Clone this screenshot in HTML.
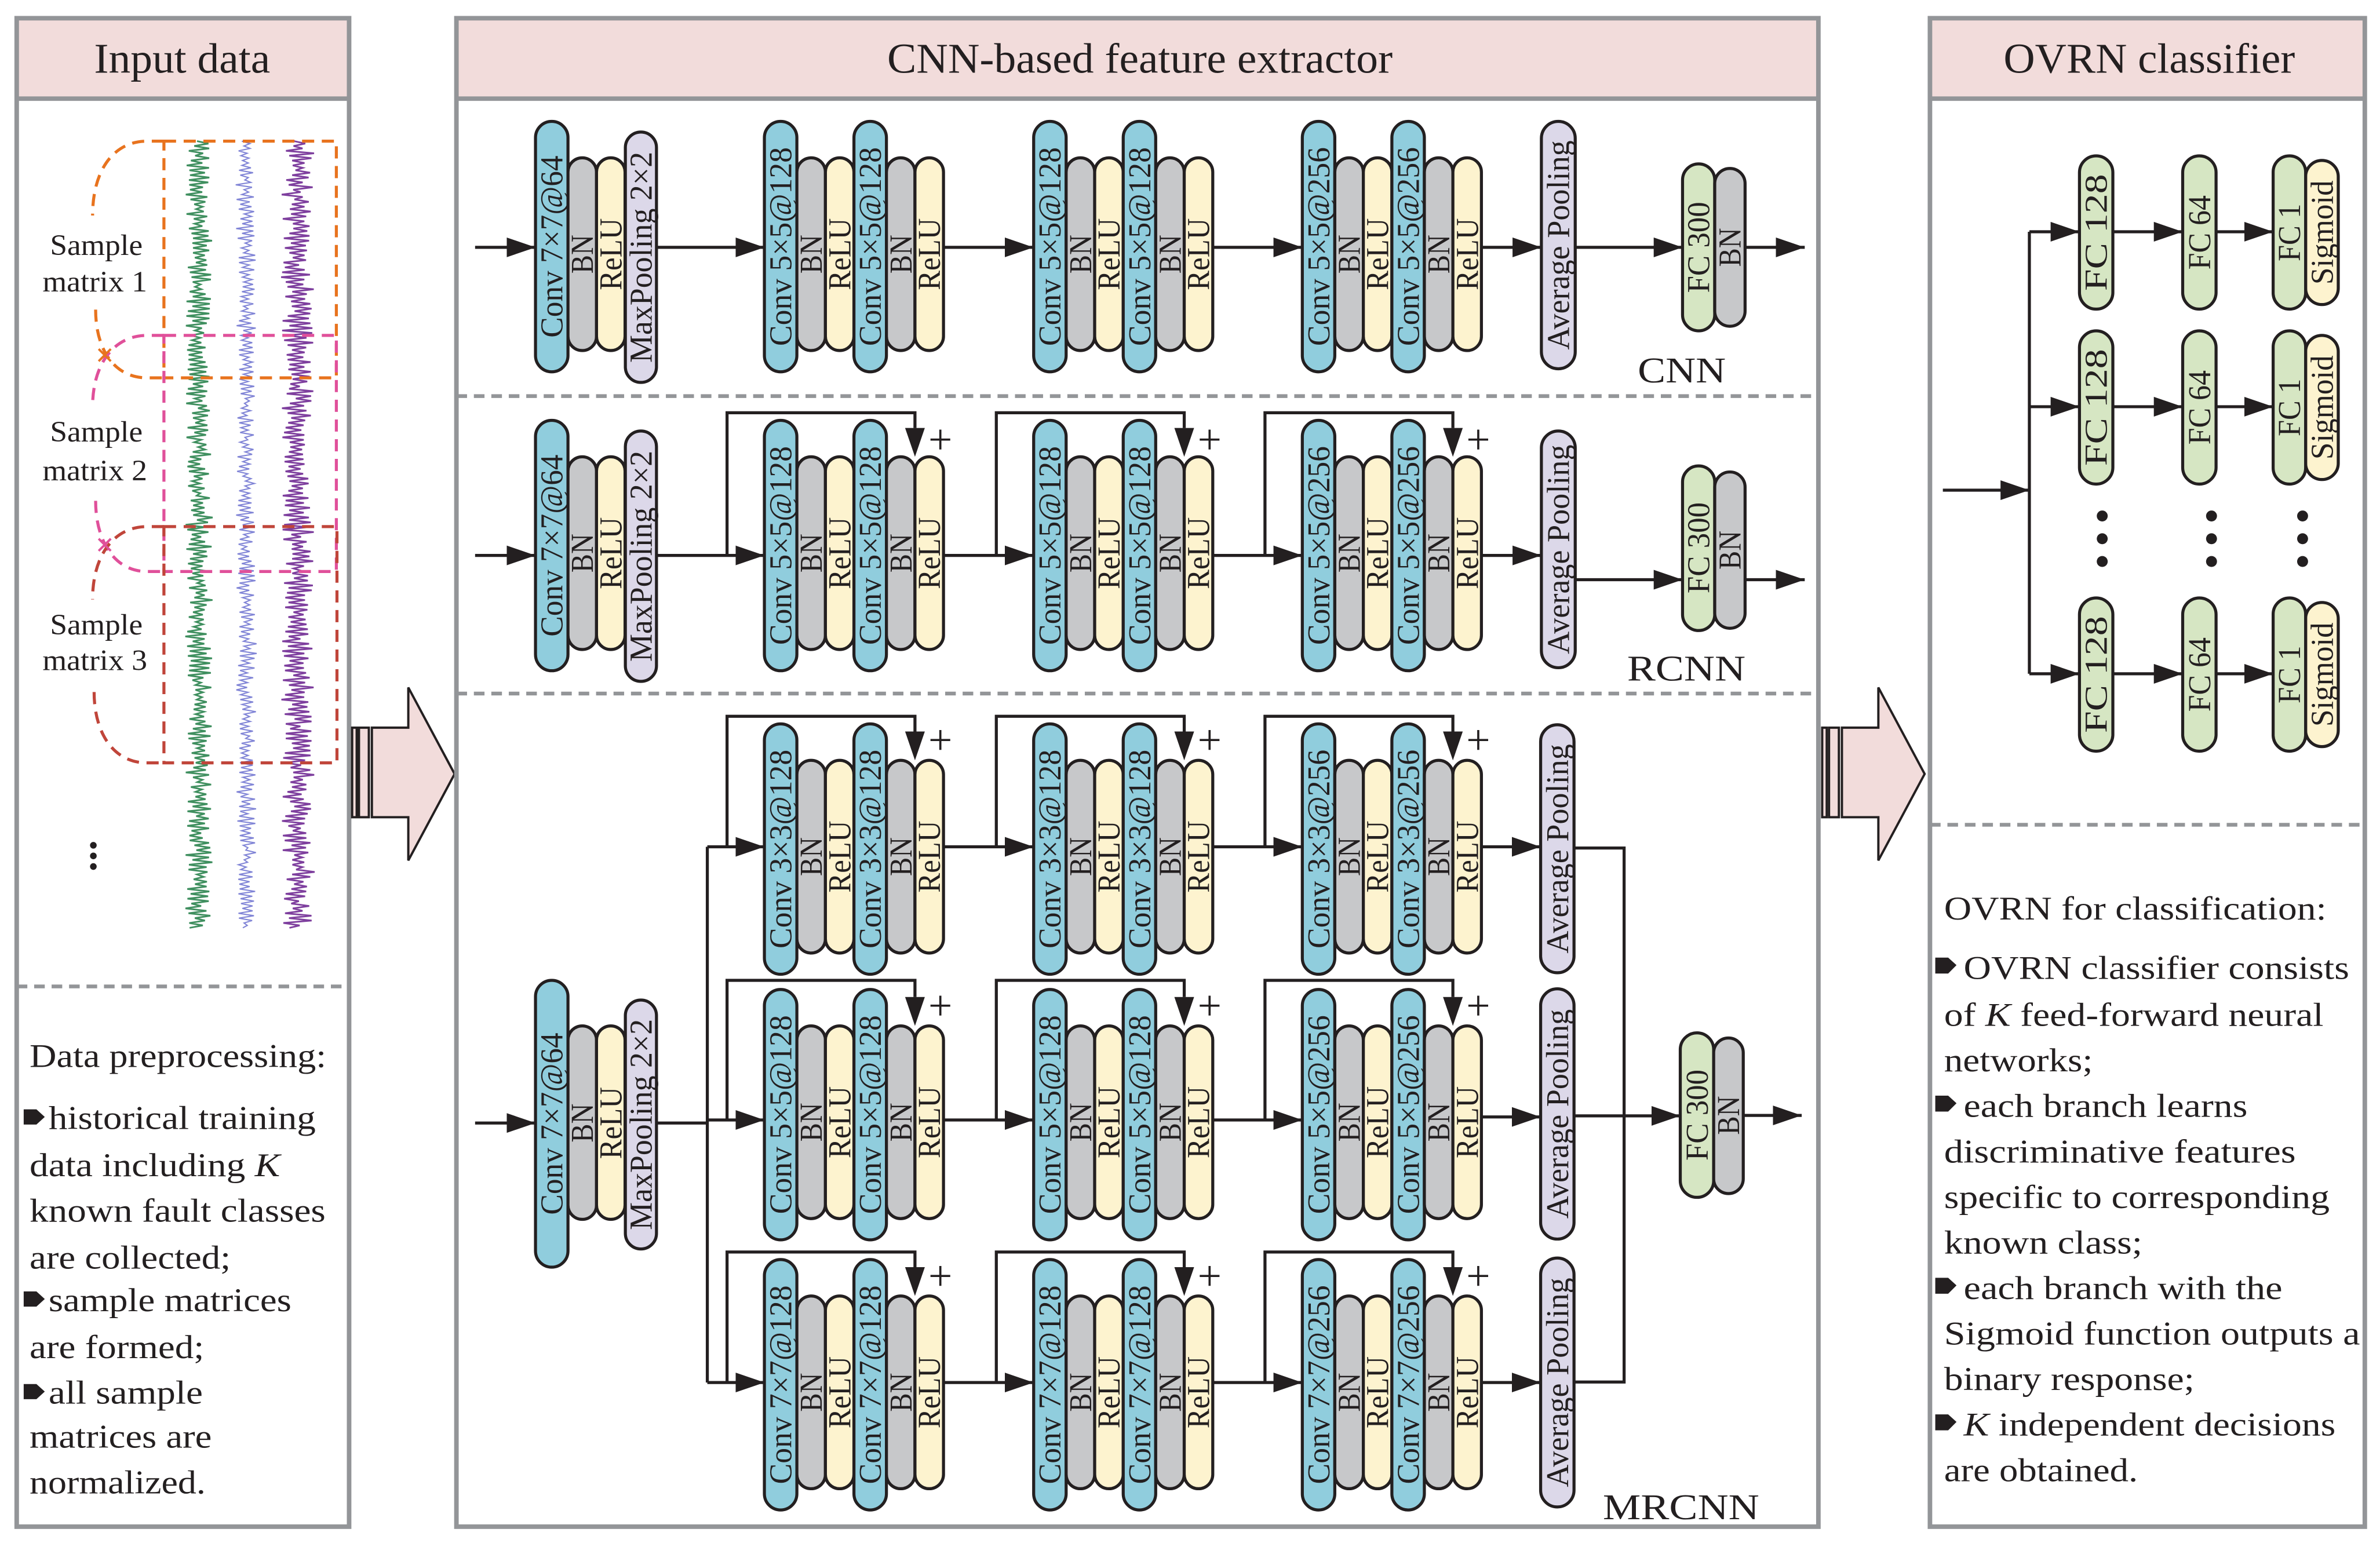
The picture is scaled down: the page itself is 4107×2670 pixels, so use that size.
<!DOCTYPE html>
<html><head><meta charset="utf-8">
<style>
html,body{margin:0;padding:0;background:#fff}
svg{display:block}
text{font-family:"Liberation Serif",serif;fill:#231f20}
.t{font-size:21px;text-anchor:middle;dominant-baseline:central}
.p{stroke:#231f20;stroke-width:2}
.b{fill:#90cddd}.g{fill:#c7c8ca}.y{fill:#fdf3cf}.l{fill:#dcd8e9}.f{fill:#d6e6c3}
.ln{fill:none;stroke:#231f20;stroke-width:2}
.ar{fill:none;stroke:#231f20;stroke-width:2;marker-end:url(#ah)}
.bd{fill:none;stroke:#939598;stroke-width:3}
.ds{fill:none;stroke:#939598;stroke-width:2.5;stroke-dasharray:7 4.5}
.bt{font-size:22px}
.pl{font-size:28px}
</style></head><body>
<svg width="4107" height="2670" viewBox="0 0 1568 1019.4" preserveAspectRatio="none" xmlns="http://www.w3.org/2000/svg" xmlns:xlink="http://www.w3.org/1999/xlink">
<defs>
<marker id="ah" markerUnits="userSpaceOnUse" markerWidth="19" markerHeight="13" refX="19" refY="6.5" orient="auto"><path d="M0,0 L19,6.5 L0,13 z" fill="#231f20"/></marker>
<g id="grp">
<rect class="p b" x="0" y="0" width="21.4" height="165" rx="10.7"/>
<rect class="p g" x="21.4" y="24" width="18.8" height="127" rx="9.4"/>
<rect class="p y" x="40.2" y="24" width="18.8" height="127" rx="9.4"/>
<rect class="p b" x="59" y="0" width="21.4" height="165" rx="10.7"/>
<rect class="p g" x="80.4" y="24" width="18.8" height="127" rx="9.4"/>
<rect class="p y" x="99.2" y="24" width="18.8" height="127" rx="9.4"/>
</g>
<g id="front">
<rect class="p b" x="0" y="0" width="21.4" height="165" rx="10.7"/>
<rect class="p g" x="21.4" y="24" width="18.8" height="127" rx="9.4"/>
<rect class="p y" x="40.2" y="24" width="18.8" height="127" rx="9.4"/>
<rect class="p l" x="59.2" y="7" width="20.5" height="165" rx="10.25"/>
</g>
<g id="fcrow">
<rect class="p f" x="1370" y="-50" width="22" height="101" rx="11"/>
<rect class="p f" x="1438" y="-50" width="22" height="101" rx="11"/>
<rect class="p y" x="1519" y="-47" width="21.5" height="95" rx="10.75"/>
<rect class="p f" x="1497.6" y="-50" width="21.4" height="101" rx="10.7"/>
<path class="ar" d="M1337,0 H1370"/><path class="ar" d="M1392,0 H1438"/><path class="ar" d="M1460,0 H1497.6"/>
</g>
</defs>

<!-- ===== Panel 1 ===== -->
<rect x="11" y="12" width="219" height="53" fill="#f2dcdb"/>
<rect class="bd" x="11" y="12" width="219" height="994"/>
<path class="bd" d="M11,65 H230"/>
<text x="120" y="48" font-size="28" text-anchor="middle" textLength="116" lengthAdjust="spacingAndGlyphs">Input data</text>
<g id="sig"></g>
<g fill="none" stroke-width="2" stroke-dasharray="8 5">
<rect x="108" y="93" width="113.6" height="156" stroke="#e8731e"/>
<rect x="108" y="221" width="113.6" height="155.6" stroke="#e0509a"/>
<rect x="108" y="347" width="114" height="155.7" stroke="#c0453a"/>
<path d="M108,93 L97,93 C75,93 61,112 61,142" stroke="#e8731e"/>
<path d="M63,204 C63,230 75,249 97,249 L108,249" stroke="#e8731e"/>
<path d="M108,221 L97,221 C75,221 61,240 61,268" stroke="#e0509a"/>
<path d="M63,330 C63,356 75,376.6 97,376.6 L108,376.6" stroke="#e0509a"/>
<path d="M108,347 L97,347 C75,347 61,366 61,395" stroke="#c0453a"/>
<path d="M62,456 C62,482 74,502.7 97,502.7 L108,502.7" stroke="#c0453a"/>
</g>
<path d="M65,230 L73,238 M73,230 L65,238" stroke="#e8731e" stroke-width="1.5"/>
<path d="M65,355 L73,363 M73,355 L65,363" stroke="#e0509a" stroke-width="1.5"/>
<g font-size="19.5" text-anchor="middle">
<text x="63.5" y="168" textLength="61" lengthAdjust="spacingAndGlyphs">Sample</text>
<text x="62.5" y="192" textLength="69" lengthAdjust="spacingAndGlyphs">matrix 1</text>
<text x="63.5" y="291" textLength="61" lengthAdjust="spacingAndGlyphs">Sample</text>
<text x="62.5" y="316.5" textLength="69" lengthAdjust="spacingAndGlyphs">matrix 2</text>
<text x="63.5" y="418" textLength="61" lengthAdjust="spacingAndGlyphs">Sample</text>
<text x="62.5" y="441.5" textLength="69" lengthAdjust="spacingAndGlyphs">matrix 3</text>
</g>
<g fill="#231f20"><circle cx="61.5" cy="557" r="2.2"/><circle cx="61.5" cy="564" r="2.2"/><circle cx="61.5" cy="571" r="2.2"/></g>
<path class="ds" d="M11,650 H230"/>
<g class="bt">
<text x="19.5" y="703" textLength="195.5" lengthAdjust="spacingAndGlyphs">Data preprocessing:</text>
<text x="32" y="744" textLength="176" lengthAdjust="spacingAndGlyphs">historical training</text>
<text x="19.5" y="775" textLength="165" lengthAdjust="spacingAndGlyphs">data including <tspan font-style="italic">K</tspan></text>
<text x="19.5" y="805" textLength="195" lengthAdjust="spacingAndGlyphs">known fault classes</text>
<text x="19.5" y="836" textLength="132.5" lengthAdjust="spacingAndGlyphs">are collected;</text>
<text x="32" y="864" textLength="160" lengthAdjust="spacingAndGlyphs">sample matrices</text>
<text x="19.5" y="895" textLength="115" lengthAdjust="spacingAndGlyphs">are formed;</text>
<text x="32" y="925" textLength="101.6" lengthAdjust="spacingAndGlyphs">all sample</text>
<text x="19.5" y="954" textLength="120" lengthAdjust="spacingAndGlyphs">matrices are</text>
<text x="19.5" y="984" textLength="116" lengthAdjust="spacingAndGlyphs">normalized.</text>
</g>
<g fill="#231f20">
<polygon points="15.6,731 24,731 29.5,736 24,741 15.6,741"/>
<polygon points="15.6,851 24,851 29.5,856 24,861 15.6,861"/>
<polygon points="15.6,912 24,912 29.5,917 24,922 15.6,922"/>
</g>

<!-- big arrows -->
<g stroke="#231f20" stroke-width="1.5" fill="#f2dcdb">
<rect x="232" y="479.5" width="3" height="59"/>
<rect x="236.5" y="479.5" width="6.5" height="59"/>
<polygon points="245,479.5 269,479.5 269,453 299.5,510 269,567 269,538.5 245,538.5"/>
</g>
<g transform="translate(968.5,0)" stroke="#231f20" stroke-width="1.5" fill="#f2dcdb">
<rect x="232" y="479.5" width="3" height="59"/>
<rect x="236.5" y="479.5" width="6.5" height="59"/>
<polygon points="245,479.5 269,479.5 269,453 299.5,510 269,567 269,538.5 245,538.5"/>
</g>

<!-- ===== Panel 2 ===== -->
<rect x="300.7" y="12" width="897.3" height="53" fill="#f2dcdb"/>
<rect class="bd" x="300.7" y="12" width="897.3" height="994"/>
<path class="bd" d="M300.7,65 H1198"/>
<text x="751" y="48" font-size="28" text-anchor="middle" textLength="333" lengthAdjust="spacingAndGlyphs">CNN-based feature extractor</text>
<path class="ds" d="M300.7,261 H1198 M300.7,457 H1198"/>

<!-- CNN row -->
<path class="ar" d="M313,163 H352.8"/>
<path class="ar" d="M432.5,163 H503.6"/>
<path class="ar" d="M621.6,163 H681"/>
<path class="ar" d="M799,163 H858"/>
<path class="ar" d="M976,163 H1015.5"/>
<path class="ar" d="M1037.8,163 H1108.5"/>
<path class="ar" d="M1150,163 H1189"/>
<g transform="translate(352.8,80)"><use href="#front"/>
<text class="t" transform="translate(10.7,82.5) rotate(-90)" textLength="120" lengthAdjust="spacingAndGlyphs">Conv 7×7@64</text>
<text class="t" transform="translate(30.8,87.5) rotate(-90)" textLength="25.6" lengthAdjust="spacingAndGlyphs">BN</text>
<text class="t" transform="translate(49.6,87.5) rotate(-90)" textLength="47.5" lengthAdjust="spacingAndGlyphs">ReLU</text>
<text class="t" transform="translate(69.45,89.5) rotate(-90)" textLength="139" lengthAdjust="spacingAndGlyphs">MaxPooling 2×2</text>
</g>
<g transform="translate(503.6,80)"><use href="#grp"/>
<text class="t" transform="translate(10.7,82.5) rotate(-90)" textLength="131" lengthAdjust="spacingAndGlyphs">Conv 5×5@128</text>
<text class="t" transform="translate(30.8,87.5) rotate(-90)" textLength="25.6" lengthAdjust="spacingAndGlyphs">BN</text>
<text class="t" transform="translate(49.6,87.5) rotate(-90)" textLength="47.5" lengthAdjust="spacingAndGlyphs">ReLU</text>
<text class="t" transform="translate(69.7,82.5) rotate(-90)" textLength="131" lengthAdjust="spacingAndGlyphs">Conv 5×5@128</text>
<text class="t" transform="translate(89.8,87.5) rotate(-90)" textLength="25.6" lengthAdjust="spacingAndGlyphs">BN</text>
<text class="t" transform="translate(108.6,87.5) rotate(-90)" textLength="47.5" lengthAdjust="spacingAndGlyphs">ReLU</text>
</g>
<g transform="translate(681,80)"><use href="#grp"/>
<text class="t" transform="translate(10.7,82.5) rotate(-90)" textLength="131" lengthAdjust="spacingAndGlyphs">Conv 5×5@128</text>
<text class="t" transform="translate(30.8,87.5) rotate(-90)" textLength="25.6" lengthAdjust="spacingAndGlyphs">BN</text>
<text class="t" transform="translate(49.6,87.5) rotate(-90)" textLength="47.5" lengthAdjust="spacingAndGlyphs">ReLU</text>
<text class="t" transform="translate(69.7,82.5) rotate(-90)" textLength="131" lengthAdjust="spacingAndGlyphs">Conv 5×5@128</text>
<text class="t" transform="translate(89.8,87.5) rotate(-90)" textLength="25.6" lengthAdjust="spacingAndGlyphs">BN</text>
<text class="t" transform="translate(108.6,87.5) rotate(-90)" textLength="47.5" lengthAdjust="spacingAndGlyphs">ReLU</text>
</g>
<g transform="translate(858,80)"><use href="#grp"/>
<text class="t" transform="translate(10.7,82.5) rotate(-90)" textLength="131" lengthAdjust="spacingAndGlyphs">Conv 5×5@256</text>
<text class="t" transform="translate(30.8,87.5) rotate(-90)" textLength="25.6" lengthAdjust="spacingAndGlyphs">BN</text>
<text class="t" transform="translate(49.6,87.5) rotate(-90)" textLength="47.5" lengthAdjust="spacingAndGlyphs">ReLU</text>
<text class="t" transform="translate(69.7,82.5) rotate(-90)" textLength="131" lengthAdjust="spacingAndGlyphs">Conv 5×5@256</text>
<text class="t" transform="translate(89.8,87.5) rotate(-90)" textLength="25.6" lengthAdjust="spacingAndGlyphs">BN</text>
<text class="t" transform="translate(108.6,87.5) rotate(-90)" textLength="47.5" lengthAdjust="spacingAndGlyphs">ReLU</text>
</g>
<rect class="p l" x="1015.5" y="80" width="22.3" height="163" rx="11.15"/>
<text class="t" transform="translate(1026.65,161.5) rotate(-90)" textLength="138" lengthAdjust="spacingAndGlyphs">Average Pooling</text>
<rect class="p f" x="1108.5" y="108" width="21.2" height="110" rx="10.6"/>
<rect class="p g" x="1129.7" y="111" width="20" height="104" rx="10"/>
<text class="t" transform="translate(1119.1,163) rotate(-90)" textLength="60" lengthAdjust="spacingAndGlyphs">FC 300</text>
<text class="t" transform="translate(1139.7,163) rotate(-90)" textLength="25.6" lengthAdjust="spacingAndGlyphs">BN</text>
<text x="1108" y="252" font-size="24" text-anchor="middle" textLength="58" lengthAdjust="spacingAndGlyphs">CNN</text>

<!-- RCNN row -->
<path class="ar" d="M313,366 H352.8"/>
<path class="ar" d="M432.5,366 H503.6"/>
<path class="ar" d="M621.6,366 H681"/>
<path class="ar" d="M799,366 H858"/>
<path class="ar" d="M976,366 H1015.5"/>
<path class="ar" d="M1037.8,382 H1108.5"/>
<path class="ar" d="M1150,382 H1189"/>
<g transform="translate(352.8,277)"><use href="#front"/>
<text class="t" transform="translate(10.7,82.5) rotate(-90)" textLength="120" lengthAdjust="spacingAndGlyphs">Conv 7×7@64</text>
<text class="t" transform="translate(30.8,87.5) rotate(-90)" textLength="25.6" lengthAdjust="spacingAndGlyphs">BN</text>
<text class="t" transform="translate(49.6,87.5) rotate(-90)" textLength="47.5" lengthAdjust="spacingAndGlyphs">ReLU</text>
<text class="t" transform="translate(69.45,89.5) rotate(-90)" textLength="139" lengthAdjust="spacingAndGlyphs">MaxPooling 2×2</text>
</g>
<g transform="translate(503.6,277)"><use href="#grp"/>
<path class="ln" d="M-24.6,89 V-5 H99.2 V5"/><polygon points="92.7,5 105.7,5 99.2,24" fill="#231f20"/><text class="pl" x="108" y="22">+</text>
<text class="t" transform="translate(10.7,82.5) rotate(-90)" textLength="131" lengthAdjust="spacingAndGlyphs">Conv 5×5@128</text>
<text class="t" transform="translate(30.8,87.5) rotate(-90)" textLength="25.6" lengthAdjust="spacingAndGlyphs">BN</text>
<text class="t" transform="translate(49.6,87.5) rotate(-90)" textLength="47.5" lengthAdjust="spacingAndGlyphs">ReLU</text>
<text class="t" transform="translate(69.7,82.5) rotate(-90)" textLength="131" lengthAdjust="spacingAndGlyphs">Conv 5×5@128</text>
<text class="t" transform="translate(89.8,87.5) rotate(-90)" textLength="25.6" lengthAdjust="spacingAndGlyphs">BN</text>
<text class="t" transform="translate(108.6,87.5) rotate(-90)" textLength="47.5" lengthAdjust="spacingAndGlyphs">ReLU</text>
</g>
<g transform="translate(681,277)"><use href="#grp"/>
<path class="ln" d="M-24.6,89 V-5 H99.2 V5"/><polygon points="92.7,5 105.7,5 99.2,24" fill="#231f20"/><text class="pl" x="108" y="22">+</text>
<text class="t" transform="translate(10.7,82.5) rotate(-90)" textLength="131" lengthAdjust="spacingAndGlyphs">Conv 5×5@128</text>
<text class="t" transform="translate(30.8,87.5) rotate(-90)" textLength="25.6" lengthAdjust="spacingAndGlyphs">BN</text>
<text class="t" transform="translate(49.6,87.5) rotate(-90)" textLength="47.5" lengthAdjust="spacingAndGlyphs">ReLU</text>
<text class="t" transform="translate(69.7,82.5) rotate(-90)" textLength="131" lengthAdjust="spacingAndGlyphs">Conv 5×5@128</text>
<text class="t" transform="translate(89.8,87.5) rotate(-90)" textLength="25.6" lengthAdjust="spacingAndGlyphs">BN</text>
<text class="t" transform="translate(108.6,87.5) rotate(-90)" textLength="47.5" lengthAdjust="spacingAndGlyphs">ReLU</text>
</g>
<g transform="translate(858,277)"><use href="#grp"/>
<path class="ln" d="M-24.6,89 V-5 H99.2 V5"/><polygon points="92.7,5 105.7,5 99.2,24" fill="#231f20"/><text class="pl" x="108" y="22">+</text>
<text class="t" transform="translate(10.7,82.5) rotate(-90)" textLength="131" lengthAdjust="spacingAndGlyphs">Conv 5×5@256</text>
<text class="t" transform="translate(30.8,87.5) rotate(-90)" textLength="25.6" lengthAdjust="spacingAndGlyphs">BN</text>
<text class="t" transform="translate(49.6,87.5) rotate(-90)" textLength="47.5" lengthAdjust="spacingAndGlyphs">ReLU</text>
<text class="t" transform="translate(69.7,82.5) rotate(-90)" textLength="131" lengthAdjust="spacingAndGlyphs">Conv 5×5@256</text>
<text class="t" transform="translate(89.8,87.5) rotate(-90)" textLength="25.6" lengthAdjust="spacingAndGlyphs">BN</text>
<text class="t" transform="translate(108.6,87.5) rotate(-90)" textLength="47.5" lengthAdjust="spacingAndGlyphs">ReLU</text>
</g>
<rect class="p l" x="1015.5" y="284" width="22.3" height="156" rx="11.15"/>
<text class="t" transform="translate(1026.65,362) rotate(-90)" textLength="138" lengthAdjust="spacingAndGlyphs">Average Pooling</text>
<rect class="p f" x="1108.5" y="307" width="21.2" height="108.5" rx="10.6"/>
<rect class="p g" x="1129.7" y="311" width="20" height="103" rx="10"/>
<text class="t" transform="translate(1119.1,361) rotate(-90)" textLength="60" lengthAdjust="spacingAndGlyphs">FC 300</text>
<text class="t" transform="translate(1139.7,362.5) rotate(-90)" textLength="25.6" lengthAdjust="spacingAndGlyphs">BN</text>
<text x="1111" y="448.5" font-size="24" text-anchor="middle" textLength="78" lengthAdjust="spacingAndGlyphs">RCNN</text>

<!-- MRCNN -->
<path class="ar" d="M313,740 H352.8"/>
<path class="ln" d="M432.5,740 H466 M466,558 V911"/>
<rect class="p b" x="352.8" y="646" width="21.4" height="189" rx="10.7"/>
<rect class="p g" x="374.2" y="676" width="18.8" height="127.5" rx="9.4"/>
<rect class="p y" x="393" y="676" width="18.8" height="127.5" rx="9.4"/>
<rect class="p l" x="412" y="659" width="20.5" height="164" rx="10.25"/>
<text class="t" transform="translate(363.5,740.5) rotate(-90)" textLength="120" lengthAdjust="spacingAndGlyphs">Conv 7×7@64</text>
<text class="t" transform="translate(383.6,740) rotate(-90)" textLength="25.6" lengthAdjust="spacingAndGlyphs">BN</text>
<text class="t" transform="translate(402.4,740) rotate(-90)" textLength="47.5" lengthAdjust="spacingAndGlyphs">ReLU</text>
<text class="t" transform="translate(422.25,741) rotate(-90)" textLength="139" lengthAdjust="spacingAndGlyphs">MaxPooling 2×2</text>

<!-- MR row a -->
<path class="ar" d="M466,558 H503.6"/><path class="ar" d="M621.6,558 H681"/><path class="ar" d="M799,558 H858"/><path class="ar" d="M976,558 H1015"/>
<g transform="translate(503.6,477)"><use href="#grp"/>
<path class="ln" d="M-24.6,81 V-5 H99.2 V5"/><polygon points="92.7,5 105.7,5 99.2,24" fill="#231f20"/><text class="pl" x="108" y="20">+</text>
<text class="t" transform="translate(10.7,82.5) rotate(-90)" textLength="131" lengthAdjust="spacingAndGlyphs">Conv 3×3@128</text>
<text class="t" transform="translate(30.8,87.5) rotate(-90)" textLength="25.6" lengthAdjust="spacingAndGlyphs">BN</text>
<text class="t" transform="translate(49.6,87.5) rotate(-90)" textLength="47.5" lengthAdjust="spacingAndGlyphs">ReLU</text>
<text class="t" transform="translate(69.7,82.5) rotate(-90)" textLength="131" lengthAdjust="spacingAndGlyphs">Conv 3×3@128</text>
<text class="t" transform="translate(89.8,87.5) rotate(-90)" textLength="25.6" lengthAdjust="spacingAndGlyphs">BN</text>
<text class="t" transform="translate(108.6,87.5) rotate(-90)" textLength="47.5" lengthAdjust="spacingAndGlyphs">ReLU</text>
</g>
<g transform="translate(681,477)"><use href="#grp"/>
<path class="ln" d="M-24.6,81 V-5 H99.2 V5"/><polygon points="92.7,5 105.7,5 99.2,24" fill="#231f20"/><text class="pl" x="108" y="20">+</text>
<text class="t" transform="translate(10.7,82.5) rotate(-90)" textLength="131" lengthAdjust="spacingAndGlyphs">Conv 3×3@128</text>
<text class="t" transform="translate(30.8,87.5) rotate(-90)" textLength="25.6" lengthAdjust="spacingAndGlyphs">BN</text>
<text class="t" transform="translate(49.6,87.5) rotate(-90)" textLength="47.5" lengthAdjust="spacingAndGlyphs">ReLU</text>
<text class="t" transform="translate(69.7,82.5) rotate(-90)" textLength="131" lengthAdjust="spacingAndGlyphs">Conv 3×3@128</text>
<text class="t" transform="translate(89.8,87.5) rotate(-90)" textLength="25.6" lengthAdjust="spacingAndGlyphs">BN</text>
<text class="t" transform="translate(108.6,87.5) rotate(-90)" textLength="47.5" lengthAdjust="spacingAndGlyphs">ReLU</text>
</g>
<g transform="translate(858,477)"><use href="#grp"/>
<path class="ln" d="M-24.6,81 V-5 H99.2 V5"/><polygon points="92.7,5 105.7,5 99.2,24" fill="#231f20"/><text class="pl" x="108" y="20">+</text>
<text class="t" transform="translate(10.7,82.5) rotate(-90)" textLength="131" lengthAdjust="spacingAndGlyphs">Conv 3×3@256</text>
<text class="t" transform="translate(30.8,87.5) rotate(-90)" textLength="25.6" lengthAdjust="spacingAndGlyphs">BN</text>
<text class="t" transform="translate(49.6,87.5) rotate(-90)" textLength="47.5" lengthAdjust="spacingAndGlyphs">ReLU</text>
<text class="t" transform="translate(69.7,82.5) rotate(-90)" textLength="131" lengthAdjust="spacingAndGlyphs">Conv 3×3@256</text>
<text class="t" transform="translate(89.8,87.5) rotate(-90)" textLength="25.6" lengthAdjust="spacingAndGlyphs">BN</text>
<text class="t" transform="translate(108.6,87.5) rotate(-90)" textLength="47.5" lengthAdjust="spacingAndGlyphs">ReLU</text>
</g>

<!-- MR row b -->
<path class="ar" d="M466,738 H503.6"/><path class="ar" d="M621.6,738 H681"/><path class="ar" d="M799,738 H858"/><path class="ar" d="M976,736 H1015"/>
<g transform="translate(503.6,652)"><use href="#grp"/>
<path class="ln" d="M-24.6,86 V-6 H99.2 V5"/><polygon points="92.7,5 105.7,5 99.2,24" fill="#231f20"/><text class="pl" x="108" y="20">+</text>
<text class="t" transform="translate(10.7,82.5) rotate(-90)" textLength="131" lengthAdjust="spacingAndGlyphs">Conv 5×5@128</text>
<text class="t" transform="translate(30.8,87.5) rotate(-90)" textLength="25.6" lengthAdjust="spacingAndGlyphs">BN</text>
<text class="t" transform="translate(49.6,87.5) rotate(-90)" textLength="47.5" lengthAdjust="spacingAndGlyphs">ReLU</text>
<text class="t" transform="translate(69.7,82.5) rotate(-90)" textLength="131" lengthAdjust="spacingAndGlyphs">Conv 5×5@128</text>
<text class="t" transform="translate(89.8,87.5) rotate(-90)" textLength="25.6" lengthAdjust="spacingAndGlyphs">BN</text>
<text class="t" transform="translate(108.6,87.5) rotate(-90)" textLength="47.5" lengthAdjust="spacingAndGlyphs">ReLU</text>
</g>
<g transform="translate(681,652)"><use href="#grp"/>
<path class="ln" d="M-24.6,86 V-6 H99.2 V5"/><polygon points="92.7,5 105.7,5 99.2,24" fill="#231f20"/><text class="pl" x="108" y="20">+</text>
<text class="t" transform="translate(10.7,82.5) rotate(-90)" textLength="131" lengthAdjust="spacingAndGlyphs">Conv 5×5@128</text>
<text class="t" transform="translate(30.8,87.5) rotate(-90)" textLength="25.6" lengthAdjust="spacingAndGlyphs">BN</text>
<text class="t" transform="translate(49.6,87.5) rotate(-90)" textLength="47.5" lengthAdjust="spacingAndGlyphs">ReLU</text>
<text class="t" transform="translate(69.7,82.5) rotate(-90)" textLength="131" lengthAdjust="spacingAndGlyphs">Conv 5×5@128</text>
<text class="t" transform="translate(89.8,87.5) rotate(-90)" textLength="25.6" lengthAdjust="spacingAndGlyphs">BN</text>
<text class="t" transform="translate(108.6,87.5) rotate(-90)" textLength="47.5" lengthAdjust="spacingAndGlyphs">ReLU</text>
</g>
<g transform="translate(858,652)"><use href="#grp"/>
<path class="ln" d="M-24.6,86 V-6 H99.2 V5"/><polygon points="92.7,5 105.7,5 99.2,24" fill="#231f20"/><text class="pl" x="108" y="20">+</text>
<text class="t" transform="translate(10.7,82.5) rotate(-90)" textLength="131" lengthAdjust="spacingAndGlyphs">Conv 5×5@256</text>
<text class="t" transform="translate(30.8,87.5) rotate(-90)" textLength="25.6" lengthAdjust="spacingAndGlyphs">BN</text>
<text class="t" transform="translate(49.6,87.5) rotate(-90)" textLength="47.5" lengthAdjust="spacingAndGlyphs">ReLU</text>
<text class="t" transform="translate(69.7,82.5) rotate(-90)" textLength="131" lengthAdjust="spacingAndGlyphs">Conv 5×5@256</text>
<text class="t" transform="translate(89.8,87.5) rotate(-90)" textLength="25.6" lengthAdjust="spacingAndGlyphs">BN</text>
<text class="t" transform="translate(108.6,87.5) rotate(-90)" textLength="47.5" lengthAdjust="spacingAndGlyphs">ReLU</text>
</g>

<!-- MR row c -->
<path class="ar" d="M466,911 H503.6"/><path class="ar" d="M621.6,911 H681"/><path class="ar" d="M799,911 H858"/><path class="ar" d="M976,911 H1015"/>
<g transform="translate(503.6,830)"><use href="#grp"/>
<path class="ln" d="M-24.6,81 V-5 H99.2 V5"/><polygon points="92.7,5 105.7,5 99.2,24" fill="#231f20"/><text class="pl" x="108" y="20">+</text>
<text class="t" transform="translate(10.7,82.5) rotate(-90)" textLength="131" lengthAdjust="spacingAndGlyphs">Conv 7×7@128</text>
<text class="t" transform="translate(30.8,87.5) rotate(-90)" textLength="25.6" lengthAdjust="spacingAndGlyphs">BN</text>
<text class="t" transform="translate(49.6,87.5) rotate(-90)" textLength="47.5" lengthAdjust="spacingAndGlyphs">ReLU</text>
<text class="t" transform="translate(69.7,82.5) rotate(-90)" textLength="131" lengthAdjust="spacingAndGlyphs">Conv 7×7@128</text>
<text class="t" transform="translate(89.8,87.5) rotate(-90)" textLength="25.6" lengthAdjust="spacingAndGlyphs">BN</text>
<text class="t" transform="translate(108.6,87.5) rotate(-90)" textLength="47.5" lengthAdjust="spacingAndGlyphs">ReLU</text>
</g>
<g transform="translate(681,830)"><use href="#grp"/>
<path class="ln" d="M-24.6,81 V-5 H99.2 V5"/><polygon points="92.7,5 105.7,5 99.2,24" fill="#231f20"/><text class="pl" x="108" y="20">+</text>
<text class="t" transform="translate(10.7,82.5) rotate(-90)" textLength="131" lengthAdjust="spacingAndGlyphs">Conv 7×7@128</text>
<text class="t" transform="translate(30.8,87.5) rotate(-90)" textLength="25.6" lengthAdjust="spacingAndGlyphs">BN</text>
<text class="t" transform="translate(49.6,87.5) rotate(-90)" textLength="47.5" lengthAdjust="spacingAndGlyphs">ReLU</text>
<text class="t" transform="translate(69.7,82.5) rotate(-90)" textLength="131" lengthAdjust="spacingAndGlyphs">Conv 7×7@128</text>
<text class="t" transform="translate(89.8,87.5) rotate(-90)" textLength="25.6" lengthAdjust="spacingAndGlyphs">BN</text>
<text class="t" transform="translate(108.6,87.5) rotate(-90)" textLength="47.5" lengthAdjust="spacingAndGlyphs">ReLU</text>
</g>
<g transform="translate(858,830)"><use href="#grp"/>
<path class="ln" d="M-24.6,81 V-5 H99.2 V5"/><polygon points="92.7,5 105.7,5 99.2,24" fill="#231f20"/><text class="pl" x="108" y="20">+</text>
<text class="t" transform="translate(10.7,82.5) rotate(-90)" textLength="131" lengthAdjust="spacingAndGlyphs">Conv 7×7@256</text>
<text class="t" transform="translate(30.8,87.5) rotate(-90)" textLength="25.6" lengthAdjust="spacingAndGlyphs">BN</text>
<text class="t" transform="translate(49.6,87.5) rotate(-90)" textLength="47.5" lengthAdjust="spacingAndGlyphs">ReLU</text>
<text class="t" transform="translate(69.7,82.5) rotate(-90)" textLength="131" lengthAdjust="spacingAndGlyphs">Conv 7×7@256</text>
<text class="t" transform="translate(89.8,87.5) rotate(-90)" textLength="25.6" lengthAdjust="spacingAndGlyphs">BN</text>
<text class="t" transform="translate(108.6,87.5) rotate(-90)" textLength="47.5" lengthAdjust="spacingAndGlyphs">ReLU</text>
</g>

<!-- MR avg pools and FC -->
<path class="ln" d="M1037,558.8 H1070 V910.7 H1037"/>
<path class="ar" d="M1037,735.3 H1107"/>
<path class="ar" d="M1148,735 H1187"/>
<rect class="p l" x="1015" y="477.6" width="22" height="163.4" rx="11"/>
<rect class="p l" x="1015" y="651.6" width="22" height="164.9" rx="11"/>
<rect class="p l" x="1015" y="829" width="22" height="164" rx="11"/>
<text class="t" transform="translate(1026,559.3) rotate(-90)" textLength="138" lengthAdjust="spacingAndGlyphs">Average Pooling</text>
<text class="t" transform="translate(1026,734) rotate(-90)" textLength="138" lengthAdjust="spacingAndGlyphs">Average Pooling</text>
<text class="t" transform="translate(1026,911) rotate(-90)" textLength="138" lengthAdjust="spacingAndGlyphs">Average Pooling</text>
<rect class="p f" x="1107" y="680.6" width="22" height="108.4" rx="11"/>
<rect class="p g" x="1129" y="684" width="19.5" height="102.5" rx="9.75"/>
<text class="t" transform="translate(1118,734.8) rotate(-90)" textLength="60" lengthAdjust="spacingAndGlyphs">FC 300</text>
<text class="t" transform="translate(1138.75,735) rotate(-90)" textLength="25.6" lengthAdjust="spacingAndGlyphs">BN</text>
<text x="1107.5" y="1001" font-size="24" text-anchor="middle" textLength="103" lengthAdjust="spacingAndGlyphs">MRCNN</text>

<!-- ===== Panel 3 ===== -->
<rect x="1271.5" y="12" width="286.5" height="53" fill="#f2dcdb"/>
<rect class="bd" x="1271.5" y="12" width="286.5" height="994"/>
<path class="bd" d="M1271.5,65 H1558"/>
<text x="1416" y="48" font-size="28" text-anchor="middle" textLength="192" lengthAdjust="spacingAndGlyphs">OVRN classifier</text>
<path class="ar" d="M1280,323 H1337"/>
<path class="ln" d="M1337,152.7 V444"/>
<g transform="translate(0,152.7)"><use href="#fcrow"/>
<text class="t" transform="translate(1381,0.5) rotate(-90)" textLength="77" lengthAdjust="spacingAndGlyphs">FC 128</text>
<text class="t" transform="translate(1449,0.5) rotate(-90)" textLength="49" lengthAdjust="spacingAndGlyphs">FC 64</text>
<text class="t" transform="translate(1508.3,0.5) rotate(-90)" textLength="38" lengthAdjust="spacingAndGlyphs">FC 1</text>
<text class="t" transform="translate(1529.75,0.5) rotate(-90)" textLength="68.6" lengthAdjust="spacingAndGlyphs">Sigmoid</text>
</g>
<g transform="translate(0,268)"><use href="#fcrow"/>
<text class="t" transform="translate(1381,0.5) rotate(-90)" textLength="77" lengthAdjust="spacingAndGlyphs">FC 128</text>
<text class="t" transform="translate(1449,0.5) rotate(-90)" textLength="49" lengthAdjust="spacingAndGlyphs">FC 64</text>
<text class="t" transform="translate(1508.3,0.5) rotate(-90)" textLength="38" lengthAdjust="spacingAndGlyphs">FC 1</text>
<text class="t" transform="translate(1529.75,0.5) rotate(-90)" textLength="68.6" lengthAdjust="spacingAndGlyphs">Sigmoid</text>
</g>
<g transform="translate(0,444)"><use href="#fcrow"/>
<text class="t" transform="translate(1381,0.5) rotate(-90)" textLength="77" lengthAdjust="spacingAndGlyphs">FC 128</text>
<text class="t" transform="translate(1449,0.5) rotate(-90)" textLength="49" lengthAdjust="spacingAndGlyphs">FC 64</text>
<text class="t" transform="translate(1508.3,0.5) rotate(-90)" textLength="38" lengthAdjust="spacingAndGlyphs">FC 1</text>
<text class="t" transform="translate(1529.75,0.5) rotate(-90)" textLength="68.6" lengthAdjust="spacingAndGlyphs">Sigmoid</text>
</g>
<g fill="#231f20">
<circle cx="1385" cy="340" r="3.6"/><circle cx="1385" cy="355" r="3.6"/><circle cx="1385" cy="370" r="3.6"/>
<circle cx="1457" cy="340" r="3.6"/><circle cx="1457" cy="355" r="3.6"/><circle cx="1457" cy="370" r="3.6"/>
<circle cx="1517" cy="340" r="3.6"/><circle cx="1517" cy="355" r="3.6"/><circle cx="1517" cy="370" r="3.6"/>
</g>
<path class="ds" d="M1271.5,543.5 H1558"/>
<g class="bt" font-size="21.5">
<text x="1280.8" y="606" textLength="252" lengthAdjust="spacingAndGlyphs">OVRN for classification:</text>
<text x="1293.7" y="645" textLength="254" lengthAdjust="spacingAndGlyphs">OVRN classifier consists</text>
<text x="1280.8" y="676" textLength="250" lengthAdjust="spacingAndGlyphs">of <tspan font-style="italic">K</tspan> feed-forward neural</text>
<text x="1280.8" y="706" textLength="98" lengthAdjust="spacingAndGlyphs">networks;</text>
<text x="1293.7" y="736" textLength="187" lengthAdjust="spacingAndGlyphs">each branch learns</text>
<text x="1280.8" y="766" textLength="231.7" lengthAdjust="spacingAndGlyphs">discriminative features</text>
<text x="1280.8" y="796" textLength="254" lengthAdjust="spacingAndGlyphs">specific to corresponding</text>
<text x="1280.8" y="826" textLength="130.7" lengthAdjust="spacingAndGlyphs">known class;</text>
<text x="1293.7" y="856" textLength="210" lengthAdjust="spacingAndGlyphs">each branch with the</text>
<text x="1280.8" y="886" textLength="274" lengthAdjust="spacingAndGlyphs">Sigmoid function outputs a</text>
<text x="1280.8" y="916" textLength="165" lengthAdjust="spacingAndGlyphs">binary response;</text>
<text x="1293.7" y="946" textLength="245" lengthAdjust="spacingAndGlyphs"><tspan font-style="italic">K</tspan> independent decisions</text>
<text x="1280.8" y="976" textLength="127.7" lengthAdjust="spacingAndGlyphs">are obtained.</text>
</g>
<g fill="#231f20">
<polygon points="1275,631 1283.5,631 1289,636 1283.5,641.5 1275,641.5"/>
<polygon points="1275,722 1283.5,722 1289,727 1283.5,732.5 1275,732.5"/>
<polygon points="1275,842 1283.5,842 1289,847 1283.5,852.5 1275,852.5"/>
<polygon points="1275,932 1283.5,932 1289,937 1283.5,942.5 1275,942.5"/>
</g>
</svg>
<script>
(function(){
var seed=12345;function r(){seed=(seed*16807)%2147483647;return seed/2147483647;}
var tr=[[131,8,'#3f8f5f',1.1],[162,6,'#8084d6',0.8],[196,10,'#7e3f9e',1.1]];
var g=document.getElementById('sig');var s='';
tr.forEach(function(t){var d='';var side=1;for(var y=93;y<=612;y+=1.6){side=-side;var x=t[0]+side*t[1]*(0.2+0.8*r())+(r()-0.5)*3;d+=(d?'L':'M')+x.toFixed(1)+','+y.toFixed(1);}
s+='<path d="'+d+'" fill="none" stroke="'+t[2]+'" stroke-width="'+t[3]+'"/>';});
g.innerHTML=s;
})();
</script>
</body></html>
